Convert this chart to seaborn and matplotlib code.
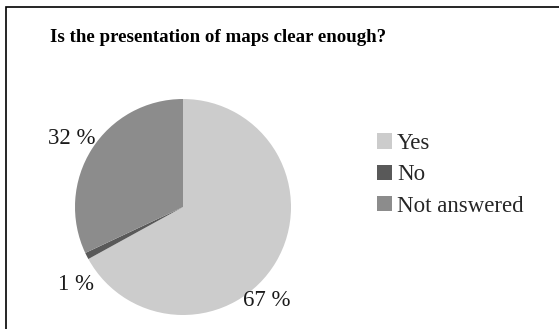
import matplotlib
matplotlib.use("Agg")
import matplotlib.pyplot as plt
import seaborn as sns
from matplotlib.patches import Rectangle

sns.set_theme(style="white")
plt.rcParams['font.family'] = ['Liberation Serif', 'DejaVu Serif']

categories = ["Yes", "No", "Not answered"]
values = [67, 1, 32]
pct_labels = ["67 %", "1 %", "32 %"]
colors = ["#cccccc", "#595959", "#8c8c8c"]

W, H = 559, 329
fig = plt.figure(figsize=(W / 100, H / 100), dpi=100)
fig.patch.set_facecolor("white")

# outer frame (extends beyond right/bottom as in reference)
fig.add_artist(Rectangle((6 / W, -0.1), 1.0, 1 - 7 / H + 0.1, transform=fig.transFigure,
                         fill=False, edgecolor="black", linewidth=1.2))

cx, cy, r = 183, 207, 108
ax = fig.add_axes([(cx - r) / W, 1 - (cy + r) / H, 2 * r / W, 2 * r / H])

wedges, texts = ax.pie(values, colors=colors, startangle=90, counterclock=False,
                       radius=1, labels=pct_labels, labeldistance=1.2,
                       wedgeprops=dict(linewidth=0),
                       textprops=dict(fontsize=16.5, color="#1a1a1a"))
ax.set_xlim(-1, 1)
ax.set_ylim(-1, 1)
ax.set_aspect("auto")
ax.axis("off")
# Excel-like label placement (pixel offsets from centre, in radius units)
label_pos = [(84 / r, -94 / r), (-107 / r, -78 / r), (-111 / r, 69 / r)]
for t, p in zip(texts, label_pos):
    t.set_position(p)
    t.set_ha("center")
    t.set_va("center")
    t.set_clip_on(False)

fig.text(50 / W, 1 - 38 / H, "Is the presentation of maps clear enough?",
         fontsize=13.6, fontweight="bold", ha="left", va="center", color="black")

leg = fig.legend(wedges, categories, loc="center left",
                 bbox_to_anchor=(368 / W, 1 - 175 / H), frameon=False,
                 fontsize=16.5, handlelength=0.65, handleheight=0.65,
                 handletextpad=0.22, labelspacing=0.45, borderaxespad=0)

fig.savefig("out.png", dpi=100, facecolor="white")
